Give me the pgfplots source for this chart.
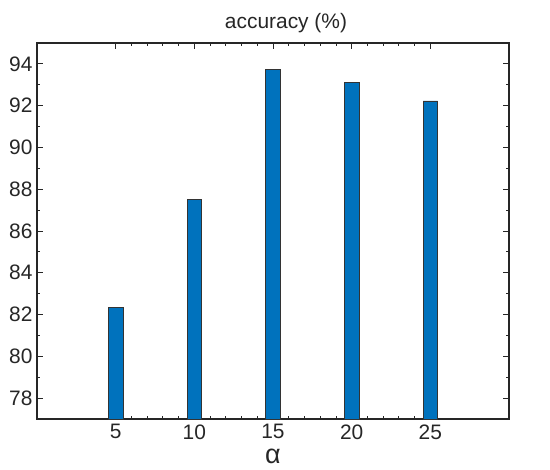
\documentclass[border=0pt]{standalone}
\usepackage{fontspec}
\setmainfont{Liberation Sans}
\usepackage{pgfplots}
\pgfplotsset{compat=1.18}
\usetikzlibrary{calc}
\definecolor{barblue}{HTML}{0072BD}
\definecolor{axgray}{HTML}{262626}

\begin{document}
\begin{tikzpicture}
\begin{axis}[
  scale only axis, width=472bp, height=376bp,
  xmin=0, xmax=30, ymin=77, ymax=95,
  xtick={5,10,15,20,25}, ytick={78,80,...,94},
  minor x tick num=4, minor y tick num=1,
  tick pos=both, tick align=inside,
  major tick length=6bp, minor tick length=3bp,
  axis line style={axgray, line width=1.2bp},
  tick style={axgray, line width=0.8bp},
  /pgf/number format/assume math mode=true,
  tick label style={font=\fontsize{21}{23}\selectfont, text=axgray},
  xticklabel style={yshift=-2bp},
  yticklabel style={xshift=-1bp},
  title={accuracy (\%)},
  title style={font=\fontsize{21}{24}\selectfont, text=axgray, xshift=13bp, yshift=1bp},
  xlabel={α},
  xlabel style={font=\fontsize{27}{29}\selectfont, text=axgray,
    at={(axis description cs:0.5,0)}, anchor=base, yshift=-44bp},
  axis background/.style={fill=white},
]
\addplot[ybar, bar width=0.93, fill=barblue, draw=black!80, line width=0.6bp]
  coordinates {(5,82.33) (10,87.5) (15,93.73) (20,93.12) (25,92.23)};
\coordinate (ll) at (rel axis cs:0,0);
\coordinate (ur) at (rel axis cs:1,1);
\end{axis}
\pgfresetboundingbox
\path[use as bounding box] ($(ll)+(-37bp,-51bp)$) rectangle ($(ur)+(41bp,43bp)$);
\end{tikzpicture}
\end{document}
